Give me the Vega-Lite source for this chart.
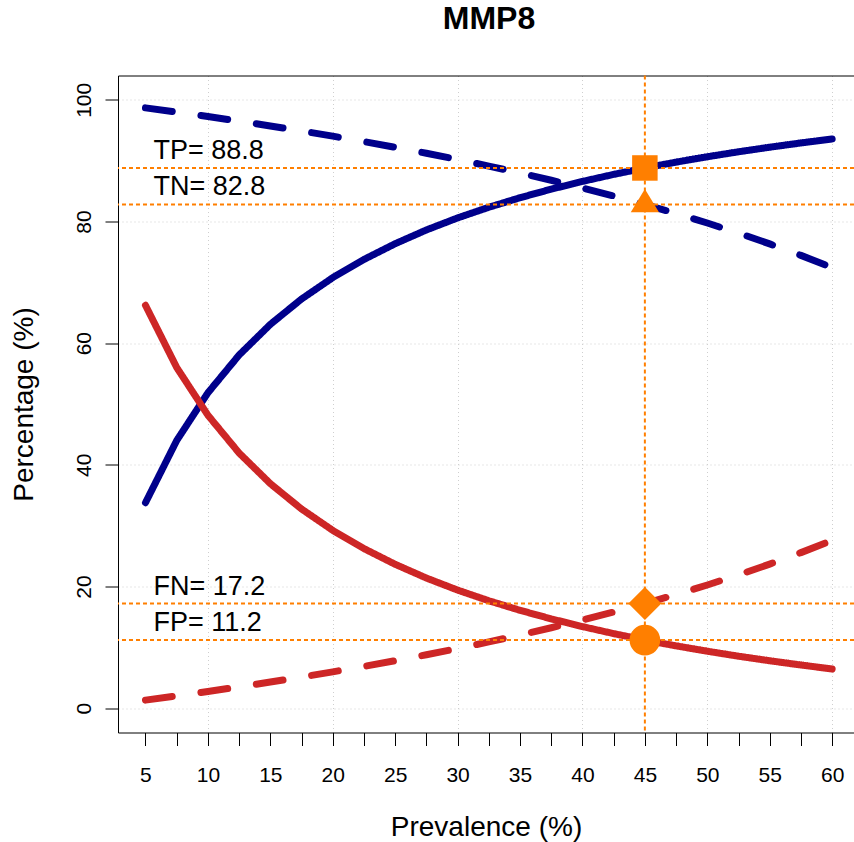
{
  "$schema": "https://vega.github.io/schema/vega-lite/v6.json",
  "width": 736,
  "height": 657,
  "autosize": "none",
  "padding": {"left": 118, "top": 75.5, "right": 0, "bottom": 109.5},
  "background": "white",
  "config": {
    "view": {"stroke": null},
    "font": "Liberation Sans",
    "axis": {"labelFont": "Liberation Sans", "titleFont": "Liberation Sans"}
  },
  "title": {
    "text": "MMP8",
    "font": "Liberation Sans",
    "fontSize": 32,
    "fontWeight": "bold",
    "color": "black",
    "anchor": "middle",
    "baseline": "alphabetic",
    "offset": 14,
    "dx": 3
  },
  "datasets": {
    "curves": [
      {"prev": 5, "TP": 33.77, "TN": 98.68, "FP": 66.23, "FN": 1.32},
      {"prev": 7.5, "TP": 43.99, "TN": 97.98, "FP": 56.01, "FN": 2.02},
      {"prev": 10, "TP": 51.84, "TN": 97.26, "FP": 48.16, "FN": 2.74},
      {"prev": 12.5, "TP": 58.05, "TN": 96.5, "FP": 41.95, "FN": 3.5},
      {"prev": 15, "TP": 63.09, "TN": 95.71, "FP": 36.91, "FN": 4.29},
      {"prev": 17.5, "TP": 67.26, "TN": 94.89, "FP": 32.74, "FN": 5.11},
      {"prev": 20, "TP": 70.77, "TN": 94.03, "FP": 29.23, "FN": 5.97},
      {"prev": 22.5, "TP": 73.77, "TN": 93.14, "FP": 26.23, "FN": 6.86},
      {"prev": 25, "TP": 76.35, "TN": 92.2, "FP": 23.65, "FN": 7.8},
      {"prev": 27.5, "TP": 78.61, "TN": 91.22, "FP": 21.39, "FN": 8.78},
      {"prev": 30, "TP": 80.59, "TN": 90.19, "FP": 19.41, "FN": 9.81},
      {"prev": 32.5, "TP": 82.34, "TN": 89.11, "FP": 17.66, "FN": 10.89},
      {"prev": 35, "TP": 83.91, "TN": 87.97, "FP": 16.09, "FN": 12.03},
      {"prev": 37.5, "TP": 85.32, "TN": 86.78, "FP": 14.68, "FN": 13.22},
      {"prev": 40, "TP": 86.59, "TN": 85.52, "FP": 13.41, "FN": 14.48},
      {"prev": 42.5, "TP": 87.74, "TN": 84.2, "FP": 12.26, "FN": 15.8},
      {"prev": 45, "TP": 88.8, "TN": 82.8, "FP": 11.2, "FN": 17.2},
      {"prev": 47.5, "TP": 89.76, "TN": 81.32, "FP": 10.24, "FN": 18.68},
      {"prev": 50, "TP": 90.64, "TN": 79.75, "FP": 9.36, "FN": 20.25},
      {"prev": 52.5, "TP": 91.46, "TN": 78.09, "FP": 8.54, "FN": 21.91},
      {"prev": 55, "TP": 92.21, "TN": 76.32, "FP": 7.79, "FN": 23.68},
      {"prev": 57.5, "TP": 92.91, "TN": 74.43, "FP": 7.09, "FN": 25.57},
      {"prev": 60, "TP": 93.56, "TN": 72.42, "FP": 6.44, "FN": 27.58}
    ],
    "cut": [
      {"measure": "TP", "prev": 45, "pct": 88.8, "label": "TP= 88.8"},
      {"measure": "TN", "prev": 45, "pct": 82.8, "label": "TN= 82.8"},
      {"measure": "FN", "prev": 45, "pct": 17.2, "label": "FN= 17.2"},
      {"measure": "FP", "prev": 45, "pct": 11.2, "label": "FP= 11.2"}
    ],
    "cutoff": [{"prev": 45}]
  },
  "layer": [
    {
      "data": {"name": "curves"},
      "transform": [{"fold": ["TP", "TN", "FP", "FN"], "as": ["measure", "pct"]}],
      "mark": {"type": "line", "strokeWidth": 7, "strokeCap": "round", "strokeJoin": "round"},
      "encoding": {
        "x": {
          "field": "prev",
          "type": "quantitative",
          "scale": {"domain": [2.8, 61.75], "nice": false, "zero": false},
          "axis": {
            "orient": "bottom",
            "title": "Prevalence (%)",
            "titleFontSize": 28,
            "titleFontWeight": "normal",
            "titleColor": "black",
            "titleBaseline": "alphabetic",
            "titleY": 102.5,
            "values": [5, 7.5, 10, 12.5, 15, 17.5, 20, 22.5, 25, 27.5, 30, 32.5, 35, 37.5, 40, 42.5, 45, 47.5, 50, 52.5, 55, 57.5, 60],
            "labelExpr": "datum.value % 5 === 0 ? format(datum.value, 'd') : ''",
            "labelFontSize": 21,
            "labelColor": "black",
            "labelPadding": 19,
            "labelFlush": false,
            "labelOverlap": false,
            "tickSize": 13,
            "tickColor": "black",
            "tickWidth": 1,
            "domainColor": "black",
            "domainWidth": 1,
            "grid": true,
            "gridColor": "#cfcfcf",
            "gridDash": [1, 3],
            "gridWidth": 1,
            "gridOpacity": {"condition": {"test": "datum.value % 10 === 0", "value": 1}, "value": 0}
          }
        },
        "y": {
          "field": "pct",
          "type": "quantitative",
          "scale": {"domain": [-4, 104], "nice": false, "zero": false},
          "axis": {
            "title": "Percentage (%)",
            "titleFontSize": 28,
            "titleFontWeight": "normal",
            "titleColor": "black",
            "titleAngle": 270,
            "titleBaseline": "alphabetic",
            "titleAlign": "center",
            "titleX": -86,
            "titleY": 328.5,
            "values": [0, 20, 40, 60, 80, 100],
            "labelAngle": 270,
            "labelAlign": "center",
            "labelBaseline": "alphabetic",
            "labelFontSize": 21,
            "labelColor": "black",
            "labelPadding": 15,
            "labelFlush": false,
            "labelOverlap": false,
            "tickSize": 13,
            "tickColor": "black",
            "domainColor": "black",
            "grid": true,
            "gridColor": "#cfcfcf",
            "gridDash": [1, 3]
          }
        },
        "color": {
          "field": "measure",
          "type": "nominal",
          "scale": {"domain": ["TP", "TN", "FP", "FN"], "range": ["#00008B", "#00008B", "#CD2626", "#CD2626"]},
          "legend": null
        },
        "strokeDash": {
          "field": "measure",
          "type": "nominal",
          "scale": {"domain": ["TP", "TN", "FP", "FN"], "range": [[1, 0], [27, 29], [1, 0], [27, 29]]},
          "legend": null
        }
      }
    },
    {
      "data": {"name": "cut"},
      "mark": {"type": "rule", "color": "#FF7F00", "strokeWidth": 2, "strokeDash": [4, 3]},
      "encoding": {
        "y": {"field": "pct", "type": "quantitative", "scale": {"domain": [-4, 104], "nice": false, "zero": false}}
      }
    },
    {
      "data": {"name": "cutoff"},
      "mark": {"type": "rule", "color": "#FF7F00", "strokeWidth": 2, "strokeDash": [4, 3]},
      "encoding": {
        "x": {
          "field": "prev",
          "type": "quantitative",
          "scale": {"domain": [2.8, 61.75], "nice": false, "zero": false},
          "axis": {"orient": "top", "title": null, "labels": false, "ticks": false, "grid": false, "domain": true, "domainColor": "black", "domainWidth": 1}
        }
      }
    },
    {
      "data": {"name": "cut"},
      "mark": {"type": "point", "filled": true, "opacity": 1, "color": "#FF7F00", "strokeWidth": 0},
      "encoding": {
        "x": {"field": "prev", "type": "quantitative", "scale": {"domain": [2.8, 61.75], "nice": false, "zero": false}, "axis": null},
        "y": {"field": "pct", "type": "quantitative", "scale": {"domain": [-4, 104], "nice": false, "zero": false}},
        "shape": {
          "field": "measure",
          "type": "nominal",
          "scale": {"domain": ["TP", "TN", "FP", "FN"], "range": ["square", "M0,-1.1L1,0.55L-1,0.55Z", "circle", "diamond"]},
          "legend": null
        },
        "size": {
          "field": "measure",
          "type": "nominal",
          "scale": {"domain": ["TP", "TN", "FP", "FN"], "range": [650, 1089, 625, 700]},
          "legend": null
        }
      }
    },
    {
      "data": {"name": "cut"},
      "mark": {"type": "text", "align": "left", "baseline": "alphabetic", "dx": 8, "dy": -9, "fontSize": 27, "font": "Liberation Sans", "color": "black"},
      "encoding": {
        "x": {"datum": 5, "type": "quantitative", "scale": {"domain": [2.8, 61.75], "nice": false, "zero": false}, "axis": null},
        "y": {"field": "pct", "type": "quantitative", "scale": {"domain": [-4, 104], "nice": false, "zero": false}},
        "text": {"field": "label"}
      }
    }
  ],
  "resolve": {"axis": {"x": "independent"}}
}
